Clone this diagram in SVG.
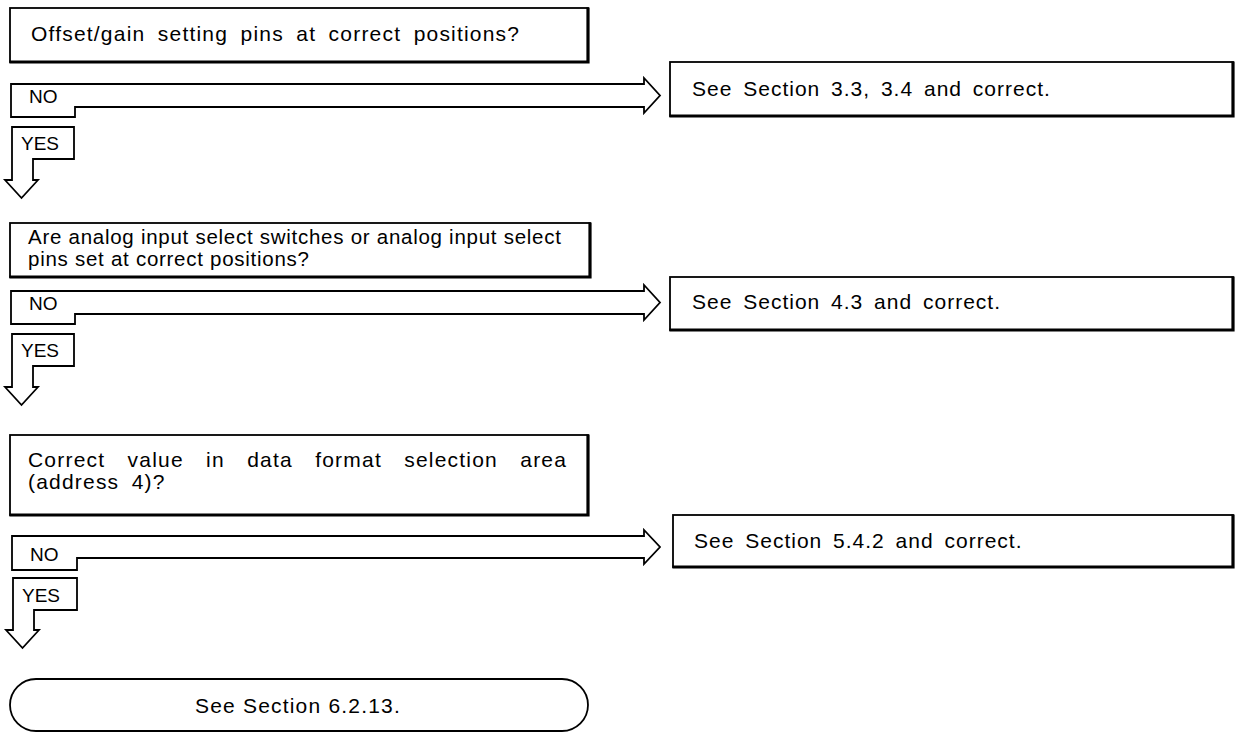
<svg xmlns="http://www.w3.org/2000/svg" width="1251" height="733" viewBox="0 0 1251 733">
<style>
  .box{fill:#fff;stroke:#000;stroke-width:1.8}
  .shadow{fill:none;stroke:#000;stroke-width:3.2;stroke-linecap:square}
  .conn{fill:#fff;stroke:#000;stroke-width:1.8;stroke-linejoin:miter}
  .t{font-family:"Liberation Sans",Arial,Helvetica,sans-serif;font-size:21px;fill:#000}
  .w{letter-spacing:1.2px;word-spacing:5.4px}
  .wj{letter-spacing:1.2px;word-spacing:15.3px}
  .rw{letter-spacing:1px;word-spacing:4px}
  .n{font-size:20.5px;letter-spacing:0.73px}
  .lbl{font-family:"Liberation Sans",Arial,Helvetica,sans-serif;font-size:19px;fill:#000}
</style>
<rect width="1251" height="733" fill="#fff"/>

<g id="connectors">
  <path class="conn" d="M11,117 V84 H644 V78 L660,95.5 L644,113 V107 H75 V117 Z"/>
  <path class="conn" d="M12,127 H74 V159 H33 V180 H38 L21.5,198 L5,180 H12 Z"/>
  <path class="conn" d="M11,324 V291 H644 V285 L660,302.5 L644,320 V314 H75 V324 Z"/>
  <path class="conn" d="M12,334 H74 V366 H33 V387 H38 L21.5,405 L5,387 H12 Z"/>
  <path class="conn" d="M12,570 V536 H644 V530 L660,547 L644,564 V558 H77 V570 Z"/>
  <path class="conn" d="M13,578 H77 V610 H34 V630 H39 L22.5,648 L6,630 H13 Z"/>
  <g id="labels">
    <text class="lbl" x="29" y="103">NO</text>
    <text class="lbl" x="21" y="150">YES</text>
    <text class="lbl" x="29" y="310">NO</text>
    <text class="lbl" x="21" y="357">YES</text>
    <text class="lbl" x="30" y="561">NO</text>
    <text class="lbl" x="22" y="602">YES</text>
  </g>
</g>

<g id="q1">
  <rect class="box" x="10" y="8" width="578" height="54"/>
  <path class="shadow" d="M588,9 V62 H11"/>
  <text class="t w" x="31" y="41">Offset/gain setting pins at correct positions?</text>
</g>

<g id="r1">
  <rect class="box" x="670" y="62" width="563" height="54"/>
  <path class="shadow" d="M1233,63 V116 H671"/>
  <text class="t rw" x="692" y="96">See Section 3.3, 3.4 and correct.</text>
</g>

<g id="q2">
  <rect class="box" x="10" y="223" width="580" height="54"/>
  <path class="shadow" d="M590,224 V277 H11"/>
  <text class="t n" x="28" y="244">Are analog input select switches or analog input select</text>
  <text class="t n" x="28" y="266">pins set at correct positions?</text>
</g>

<g id="r2">
  <rect class="box" x="670" y="277" width="563" height="53"/>
  <path class="shadow" d="M1233,278 V330 H671"/>
  <text class="t rw" x="692" y="309">See Section 4.3 and correct.</text>
</g>

<g id="q3">
  <rect class="box" x="10" y="435" width="578" height="80"/>
  <path class="shadow" d="M588,436 V515 H11"/>
  <text class="t wj" x="28" y="467">Correct value in data format selection area</text>
  <text class="t w" x="28" y="489">(address 4)?</text>
</g>

<g id="r3">
  <rect class="box" x="673" y="515" width="560" height="52"/>
  <path class="shadow" d="M1233,516 V567 H674"/>
  <text class="t rw" x="694" y="548">See Section 5.4.2 and correct.</text>
</g>

<g id="end">
  <rect class="box" x="10" y="679" width="578" height="52" rx="26" ry="26"/>
  <text class="t" x="298" y="713" text-anchor="middle" letter-spacing="1.2">See Section 6.2.13.</text>
</g>
</svg>
